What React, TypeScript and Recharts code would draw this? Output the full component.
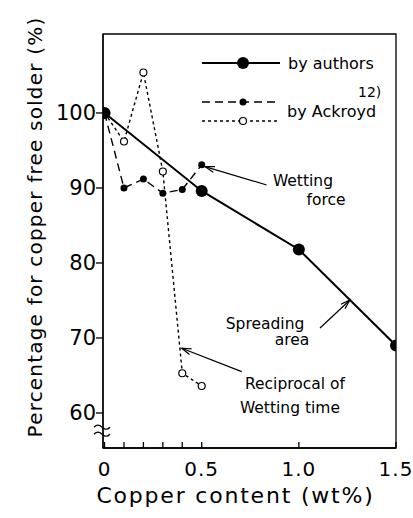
import { LineChart, Line, XAxis, YAxis, ReferenceLine, ReferenceDot, ReferenceArea, Legend } from 'recharts';

const FONT = 'DejaVu Sans';

// copper content (wt%) and percentage for copper free solder
const authorsCu = [0, 0.5, 1.0, 1.5];
const authorsPct = [100, 89.6, 81.8, 69.0];
const forceCu = [0, 0.1, 0.2, 0.3, 0.4, 0.5];
const forcePct = [100, 90.0, 91.2, 89.3, 89.8, 93.1];
const timeCu = [0, 0.1, 0.2, 0.3, 0.4, 0.5];
const timePct = [100, 96.2, 105.4, 92.2, 65.3, 63.6];

const xTicks = [0, 0.1, 0.2, 0.3, 0.4, 0.5, 1.0, 1.5];
const xTickLabels: Record<string, string> = { '0': '0', '0.5': '0.5', '1': '1.0', '1.5': '1.5' };
const yBreak = 57.7;
const yTicks = [yBreak, 60, 70, 80, 90, 100];

const X_MIN = -0.008;
const X_MAX = 1.5;
const Y_MIN = 55.33;
const Y_MAX = 110.53;

// annotation texts and arrows (data coordinates)
const notes = [
  { x: 1.021, y: 90.93, text: 'Wetting' },
  { x: 1.14, y: 88.4, text: 'force' },
  { x: 0.826, y: 71.9, text: 'Spreading' },
  { x: 0.965, y: 69.7, text: 'area' },
  { x: 0.98, y: 63.87, text: 'Reciprocal of' },
  { x: 0.954, y: 60.67, text: 'Wetting time' },
];
const arrows = [
  { from: { x: 0.834, y: 90.4 }, to: { x: 0.517, y: 92.84 } },
  { from: { x: 1.109, y: 71.33 }, to: { x: 1.263, y: 75.07 } },
  { from: { x: 0.706, y: 65.51 }, to: { x: 0.397, y: 68.63 } },
];

const toRows = (xs: number[], ys: number[]) => xs.map((cu, i) => ({ cu, pct: ys[i] }));
const authors = toRows(authorsCu, authorsPct);
const force = toRows(forceCu, forcePct);
const time = toRows(timeCu, timePct);

const XTick = (props: any) => {
  const { x, y, payload } = props;
  const ay = y - 8;
  const label = xTickLabels[String(payload.value)];
  return (
    <g>
      <line x1={x} x2={x} y1={ay} y2={ay - 6} stroke="#000" strokeWidth={1.3} />
      {label && (
        <text x={x} y={ay + 21} textAnchor="middle" dominantBaseline="central" fontSize={20} fontFamily={FONT} fill="#000" letterSpacing={1}>
          {label}
        </text>
      )}
    </g>
  );
};

const YTick = (props: any) => {
  const { x, y, payload } = props;
  const ax = x + 8;
  if (Math.abs(payload.value - yBreak) < 0.01) {
    const wave = (dy: number) => `M${ax - 9},${y + dy} q4,-4 8,0 t8,0`;
    return (
      <g fill="none" stroke="#000" strokeWidth={1.2}>
        <path d={wave(-3)} />
        <path d={wave(4)} />
      </g>
    );
  }
  return (
    <g>
      <line x1={ax - 7} x2={ax} y1={y} y2={y} stroke="#000" strokeWidth={1.3} />
      <text x={ax - 7} y={y} textAnchor="end" dominantBaseline="central" fontSize={21} fontFamily={FONT} fill="#000">
        {payload.value}
      </text>
    </g>
  );
};

const Arrow = (props: any) => {
  const { x1, y1, x2, y2 } = props;
  const ang = Math.atan2(y1 - y2, x1 - x2);
  const len = 10;
  const a1 = ang + 0.3;
  const a2 = ang - 0.3;
  return (
    <g stroke="#000" strokeWidth={1.2} fill="none">
      <line x1={x1} y1={y1} x2={x2} y2={y2} />
      <polyline
        points={`${x2 + len * Math.cos(a1)},${y2 + len * Math.sin(a1)} ${x2},${y2} ${x2 + len * Math.cos(a2)},${y2 + len * Math.sin(a2)}`}
      />
    </g>
  );
};

const LegendBox = () => (
  <svg width={210} height={80} style={{ overflow: 'visible', display: 'block' }}>
    <g fontFamily={FONT} fontSize={16} fill="#000">
      <line x1={7} x2={85} y1={13} y2={13} stroke="#000" strokeWidth={2} />
      <circle cx={48} cy={13} r={6} fill="#000" />
      <text x={93} y={13} dominantBaseline="central">by authors</text>
      <line x1={7} x2={85} y1={52} y2={52} stroke="#000" strokeWidth={1.4} strokeDasharray="8 5" />
      <circle cx={48} cy={52} r={3.5} fill="#000" />
      <text x={163} y={42} fontSize={14} dominantBaseline="central">12)</text>
      <text x={92} y={61} dominantBaseline="central">by Ackroyd</text>
      <line x1={7} x2={85} y1={71} y2={71} stroke="#000" strokeWidth={1.4} strokeDasharray="3 3" />
      <circle cx={48} cy={71} r={3.5} fill="#fff" stroke="#000" strokeWidth={1.2} />
    </g>
  </svg>
);

const YLabel = (props: any) => {
  const { viewBox } = props;
  const cy = viewBox.y + viewBox.height / 2 - 14;
  return (
    <text transform={`translate(35,${cy}) rotate(-90)`} textAnchor="middle" dominantBaseline="central" fontSize={20} letterSpacing={1.2} fontFamily={FONT} fill="#000">
      Percentage for copper free solder (%)
    </text>
  );
};

const XLabel = (props: any) => {
  const { viewBox } = props;
  const cx = viewBox.x + viewBox.width / 2 - 14;
  return (
    <text x={cx} y={495} textAnchor="middle" dominantBaseline="central" fontSize={22} letterSpacing={1.8} fontFamily={FONT} fill="#000">
      Copper content (wt%)
    </text>
  );
};

export default function App() {
  return (
    <div style={{ position: 'absolute', left: 0, top: 0, background: '#fff' }}>
      <LineChart width={413} height={518} margin={{ top: 34, right: 17, bottom: 0, left: 0 }}>
        <XAxis
          type="number"
          dataKey="cu"
          domain={[X_MIN, X_MAX]}
          ticks={xTicks}
          interval={0}
          allowDataOverflow
          height={70}
          tickSize={6}
          tickMargin={2}
          tickLine={false}
          tick={<XTick />}
          axisLine={{ stroke: '#000', strokeWidth: 1.3 }}
          label={<XLabel />}
        />
        <YAxis
          type="number"
          domain={[Y_MIN, Y_MAX]}
          ticks={yTicks}
          interval={0}
          allowDataOverflow
          width={103}
          tickSize={6}
          tickMargin={2}
          tickLine={false}
          tick={<YTick />}
          axisLine={{ stroke: '#000', strokeWidth: 1.3 }}
          label={<YLabel />}
        />
        <ReferenceArea x1={X_MIN} x2={X_MAX} y1={Y_MIN} y2={Y_MAX} fill="none" stroke="#000" strokeWidth={1.3} />
        <Line data={time} dataKey="pct" stroke="#000" strokeWidth={1.4} strokeDasharray="3 3"
          dot={{ r: 3.5, fill: '#fff', stroke: '#000', strokeWidth: 1.2, strokeDasharray: '' }} isAnimationActive={false} />
        <Line data={force} dataKey="pct" stroke="#000" strokeWidth={1.4} strokeDasharray="8 5"
          dot={{ r: 3.5, fill: '#000', stroke: '#000', strokeWidth: 0 }} isAnimationActive={false} />
        <Line data={authors} dataKey="pct" stroke="#000" strokeWidth={2}
          dot={{ r: 6, fill: '#000', stroke: '#000', strokeWidth: 0 }} isAnimationActive={false} />
        {arrows.map((a, i) => (
          <ReferenceLine key={'a' + i} segment={[a.from, a.to]} shape={<Arrow />} ifOverflow="visible" />
        ))}
        {notes.map((n, i) => (
          <ReferenceDot
            key={'n' + i}
            x={n.x}
            y={n.y}
            r={0}
            ifOverflow="visible"
            shape={(p: any) => (
              <text x={p.cx} y={p.cy} textAnchor="middle" dominantBaseline="central" fontSize={15.5} fontFamily={FONT} fill="#000">
                {n.text}
              </text>
            )}
          />
        ))}
        <Legend
          layout="vertical"
          align="center"
          verticalAlign="middle"
          content={<LegendBox />}
          wrapperStyle={{ left: 195, top: 50, width: 210, height: 80 }}
        />
      </LineChart>
    </div>
  );
}
